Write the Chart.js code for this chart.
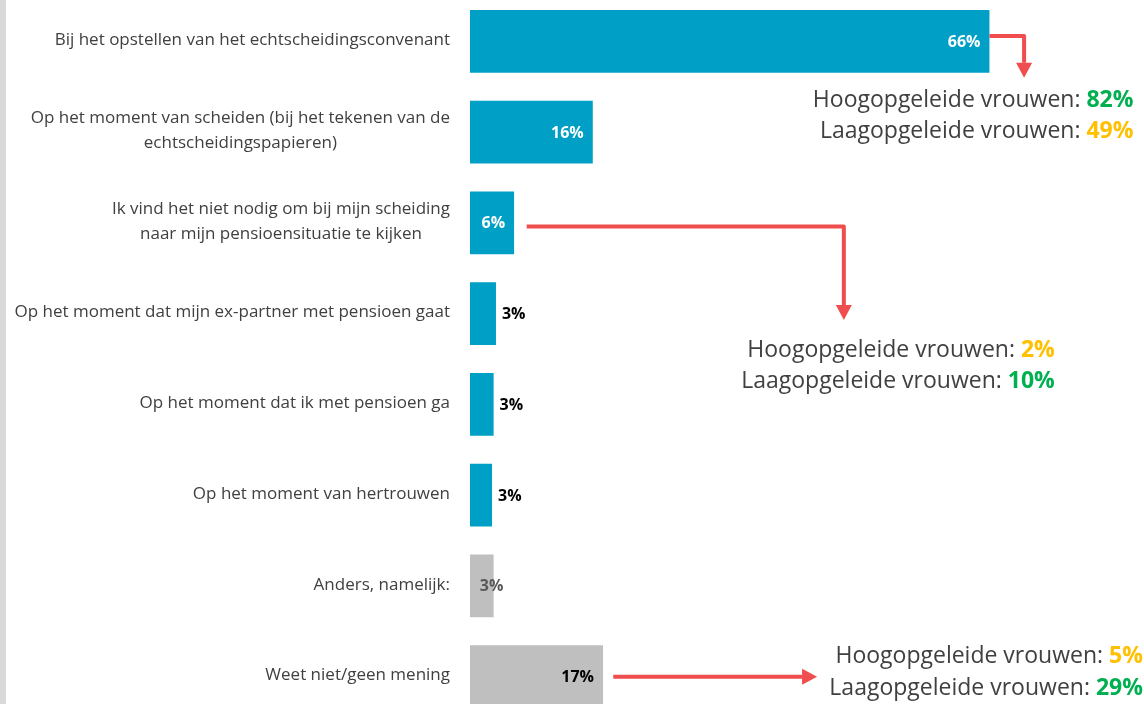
<!DOCTYPE html>
<html><head><meta charset="utf-8">
<script src="https://cdn.jsdelivr.net/npm/chart.js@4"></script>
<style>
html,body{margin:0;padding:0;background:#fff;overflow:hidden;width:1144px;height:704px;}
#strip{position:absolute;left:0;top:0;width:6px;height:704px;background:#d9d9d9;}
#wrap{position:absolute;left:0;top:-4px;width:1144px;height:726px;}
</style></head><body>
<div id="wrap"><canvas id="c" width="1144" height="726"></canvas></div>
<div id="strip"></div>
<script>
// ---- data ----
const categories = [
  ['Bij het opstellen van het echtscheidingsconvenant'],
  ['Op het moment van scheiden (bij het tekenen van de', 'echtscheidingspapieren)'],
  ['Ik vind het niet nodig om bij mijn scheiding', 'naar mijn pensioensituatie te kijken'],
  ['Op het moment dat mijn ex-partner met pensioen gaat'],
  ['Op het moment dat ik met pensioen ga'],
  ['Op het moment van hertrouwen'],
  ['Anders, namelijk:'],
  ['Weet niet/geen mening']
];
const values = [66, 15.6, 5.6, 3.3, 3.0, 2.8, 3.0, 16.9];
const valueLabels = ['66%', '16%', '6%', '3%', '3%', '3%', '3%', '17%'];
const calloutRows = [0, 2, 7];
const hoogValues = [82, 2, 5];
const laagValues = [49, 10, 29];

// ---- styles ----
const BLUE = '#009FC6', GREY = '#BFBFBF', RED = '#F04E4E';
const GREEN = '#00B050', ORANGE = '#FFC000', TEXT = '#404040';
const barColors = [BLUE, BLUE, BLUE, BLUE, BLUE, BLUE, GREY, GREY];
const labelColors = ['#ffffff', '#ffffff', '#ffffff', '#000000', '#000000', '#000000', '#595959', '#000000'];
const labelModes = ['in', 'in', 'in', 'out', 'out', 'out', 'edge', 'in'];

// callout geometry in data units (x: percent, y: category index)
const arrowPaths = [
  [[66, -0.06], [70.4, -0.06], [70.4, 0.40]],
  [[7.2, 2.04], [47.5, 2.04], [47.5, 3.07]],
  [[18.2, 7.0], [44.1, 7.0]]
];
const calloutText = [
  {x: 84.3, y: [0.65, 0.99]},
  {x: 74.3, y: [3.41, 3.745]},
  {x: 85.5, y: [6.775, 7.125]}
];

const FONT = '"Open Sans", "Noto Sans", sans-serif';

const overlay = {
  id: 'overlay',
  afterDatasetsDraw(chart) {
    const ctx = chart.ctx, xs = chart.scales.x, ys = chart.scales.y;
    const X = v => xs.getPixelForValue(v), Y = i => ys.getPixelForValue(i);
    ctx.save();
    // category labels (lines centred within block, block right-aligned)
    ctx.font = '17px ' + FONT;
    ctx.fillStyle = TEXT;
    ctx.textBaseline = 'middle';
    ctx.textAlign = 'center';
    categories.forEach((lines, i) => {
      const w = Math.max(...lines.map(l => ctx.measureText(l).width));
      const cx = xs.left - 20 - w / 2;
      const lh = 25;
      const y0 = Y(i) - (lines.length - 1) * lh / 2 - 1;
      lines.forEach((l, k) => ctx.fillText(l, cx, y0 + k * lh));
    });
    // value labels
    ctx.font = 'bold 16px ' + FONT;
    const meta = chart.getDatasetMeta(0);
    meta.data.forEach((bar, i) => {
      ctx.fillStyle = labelColors[i];
      const y = bar.y + 1;
      if (labelModes[i] === 'in') { ctx.textAlign = 'right'; ctx.fillText(valueLabels[i], bar.x - 9, y); }
      else if (labelModes[i] === 'out') { ctx.textAlign = 'left'; ctx.fillText(valueLabels[i], bar.x + 6, y); }
      else { ctx.textAlign = 'center'; ctx.fillText(valueLabels[i], bar.x - 2, y); }
    });
    // arrows
    ctx.strokeStyle = RED; ctx.fillStyle = RED; ctx.lineWidth = 4; ctx.lineJoin = 'round';
    arrowPaths.forEach(path => {
      const pts = path.map(p => [X(p[0]), Y(p[1])]);
      const n = pts.length;
      const [tx, ty] = pts[n - 1], [px, py] = pts[n - 2];
      const ang = Math.atan2(ty - py, tx - px);
      const headLen = 15, headW = 8;
      const bx = tx - Math.cos(ang) * headLen, by = ty - Math.sin(ang) * headLen;
      ctx.beginPath();
      ctx.moveTo(pts[0][0], pts[0][1]);
      for (let k = 1; k < n - 1; k++) ctx.lineTo(pts[k][0], pts[k][1]);
      ctx.lineTo(bx, by);
      ctx.stroke();
      ctx.beginPath();
      ctx.moveTo(tx, ty);
      ctx.lineTo(bx - Math.sin(ang) * headW, by + Math.cos(ang) * headW);
      ctx.lineTo(bx + Math.sin(ang) * headW, by - Math.cos(ang) * headW);
      ctx.closePath();
      ctx.fill();
    });
    // callout texts
    const regFont = '23px ' + FONT, boldFont = 'bold 23px ' + FONT;
    ctx.textAlign = 'left';
    calloutText.forEach((c, j) => {
      const h = hoogValues[j], l = laagValues[j];
      const rows = [['Hoogopgeleide vrouwen: ', h, h > l ? GREEN : ORANGE],
                    ['Laagopgeleide vrouwen: ', l, l > h ? GREEN : ORANGE]];
      rows.forEach((r, k) => {
        const val = r[1] + '%';
        ctx.font = boldFont; const wv = ctx.measureText(val).width;
        ctx.font = regFont; const wt = ctx.measureText(r[0]).width;
        const right = X(c.x), y = Y(c.y[k]);
        ctx.fillStyle = TEXT; ctx.fillText(r[0], right - wv - wt, y);
        ctx.font = boldFont; ctx.fillStyle = r[2]; ctx.fillText(val, right - wv, y);
      });
    });
    ctx.restore();
  }
};

new Chart(document.getElementById('c'), {
  type: 'bar',
  data: {
    labels: categories,
    datasets: [{ data: values, backgroundColor: barColors, borderWidth: 0,
                 barPercentage: 0.69, categoryPercentage: 1 }]
  },
  options: {
    indexAxis: 'y',
    responsive: false,
    devicePixelRatio: 1,
    animation: false,
    layout: { padding: { left: 470, right: 5, top: 0, bottom: 0 } },
    plugins: { legend: { display: false }, tooltip: { enabled: false } },
    scales: {
      x: { display: false, min: 0, max: 85 },
      y: { display: false }
    }
  },
  plugins: [overlay]
});
</script>
</body></html>
